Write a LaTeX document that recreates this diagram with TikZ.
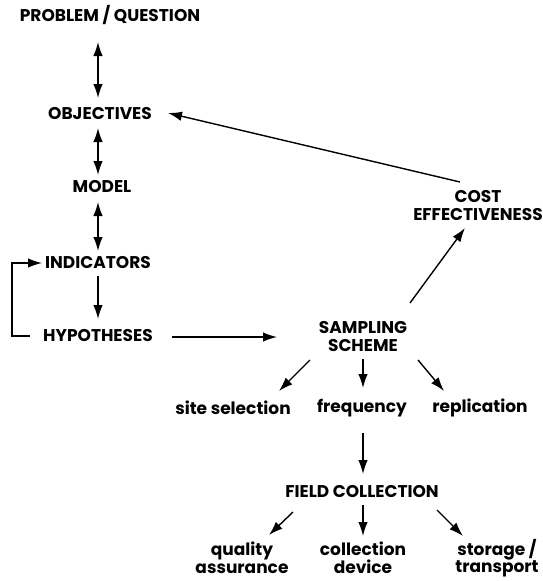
\documentclass[tikz,border=0pt]{standalone}
\usepackage{fontspec}
\setmainfont{Poppins}[BoldFont={* Bold}]
\usetikzlibrary{arrows.meta}
\begin{document}
\begin{tikzpicture}[x=1pt,y=-1pt,
  lbl/.style={font=\bfseries\fontsize{17}{18}\selectfont, inner sep=0pt, align=center},
  sm/.style={font=\bfseries\fontsize{17}{17.5}\selectfont, inner sep=0pt, align=center},
  conn/.style={line width=1.4pt, -{Latex[length=14pt,width=9.5pt]}},
  dconn/.style={line width=1.4pt, {Latex[length=14pt,width=9.5pt]}-{Latex[length=14pt,width=9.5pt]}}]
\useasboundingbox (0,0) rectangle (543,581);
\node[lbl] (prob) at (110,15) {PROBLEM / QUESTION};
\node[lbl] (obj) at (100,114) {OBJECTIVES};
\node[lbl] (model) at (102,187) {MODEL};
\node[lbl] (ind) at (98,263) {INDICATORS};
\node[lbl] (hyp) at (98,336) {HYPOTHESES};
\node[lbl] (samp) at (363,337) {SAMPLING\\SCHEME};
\node[lbl] (cost) at (478,206) {COST\\EFFECTIVENESS};
\node[sm] (site) at (233,408) {site selection};
\node[sm] (freq) at (362,408) {frequency};
\node[sm] (rep) at (480,408) {replication};
\node[lbl] (field) at (362,492) {FIELD COLLECTION};
\node[sm] (qa) at (242,558) {quality\\assurance};
\node[sm] (dev) at (363,558) {collection\\device};
\node[sm] (stor) at (497,558) {storage /\\transport};

\coordinate (a1) at (98,42); \coordinate (a2) at (98,98);
\draw[dconn] (a1) -- (a2);
\coordinate (b1) at (98,128); \coordinate (b2) at (98,175);
\draw[dconn] (b1) -- (b2);
\coordinate (c1) at (98,202); \coordinate (c2) at (98,251);
\draw[dconn] (c1) -- (c2);
\coordinate (d1) at (98,276); \coordinate (d2) at (98,319);
\draw[conn] (d1) -- (d2);
\coordinate (l1) at (30,336); \coordinate (l2) at (12,336); \coordinate (l3) at (12,263); \coordinate (l4) at (42,263);
\draw[conn] (l1) -- (l2) -- (l3) -- (l4);
\coordinate (h1) at (172,337); \coordinate (h2) at (277,337);
\draw[conn] (h1) -- (h2);
\coordinate (s1) at (410,303); \coordinate (s2) at (465,228);
\draw[conn] (s1) -- (s2);
\coordinate (e1) at (460,182); \coordinate (e2) at (168,113);
\draw[conn] (e1) -- (e2);
\coordinate (t1) at (310,360); \coordinate (t2) at (279,391);
\draw[conn] (t1) -- (t2);
\coordinate (u1) at (363,359); \coordinate (u2) at (363,388);
\draw[conn] (u1) -- (u2);
\coordinate (v1) at (418,360); \coordinate (v2) at (444,391);
\draw[conn] (v1) -- (v2);
\coordinate (f1) at (363,433); \coordinate (f2) at (363,474);
\draw[conn] (f1) -- (f2);
\coordinate (g1) at (293,512); \coordinate (g2) at (269,535);
\draw[conn] (g1) -- (g2);
\coordinate (w1) at (363,505); \coordinate (w2) at (363,536);
\draw[conn] (w1) -- (w2);
\coordinate (x1) at (437,510); \coordinate (x2) at (463,536);
\draw[conn] (x1) -- (x2);
\end{tikzpicture}
\end{document}
